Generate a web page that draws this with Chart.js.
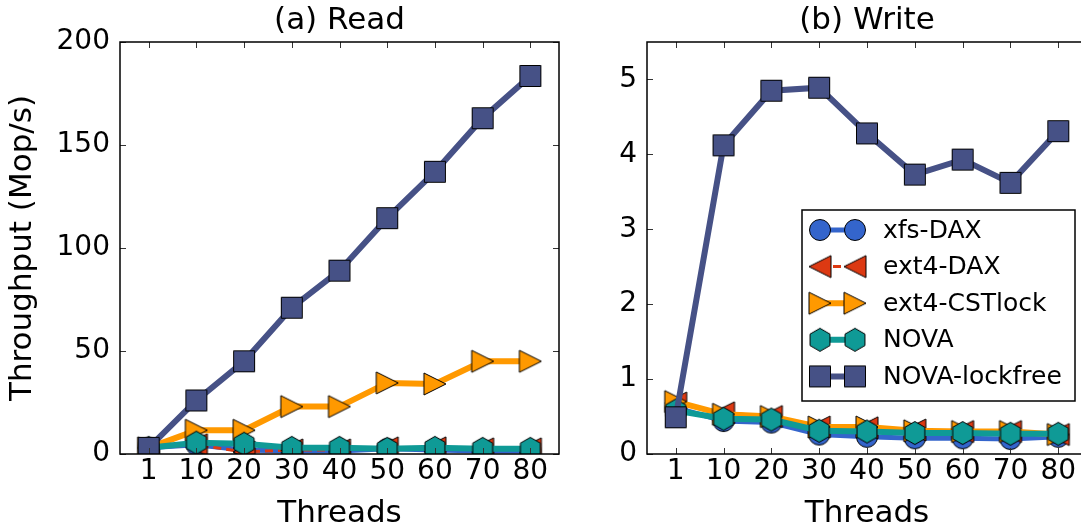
<!DOCTYPE html>
<html>
<head>
<meta charset="utf-8">
<script src="https://cdn.jsdelivr.net/npm/chart.js@4.4.0/dist/chart.umd.min.js"></script>
<style>
    html, body { margin: 0; padding: 0; background: #fff; overflow: hidden; width: 1081px; height: 529px; }
    #readBox { position: absolute; left: 0; top: 0; width: 565px; height: 529px; }
    #writeBox { position: absolute; left: 560px; top: 0; width: 540px; height: 529px; }
</style>
</head>
<body>
<div id="readBox"><canvas id="readChart"></canvas></div>
<div id="writeBox"><canvas id="writeChart"></canvas></div>
<script>
'use strict';

// 
// Data
//

const threads = ['1', '10', '20', '30', '40', '50', '60', '70', '80'];
const seriesNames = ['xfs-DAX', 'ext4-DAX', 'ext4-CSTlock', 'NOVA', 'NOVA-lockfree'];

const readXfsDax = [3, 4.5, 2, 1.5, 1.5, 2.5, 2, 1.5, 1.5];
const readExt4Dax = [3, 4.5, 1, 2, 2, 3, 3, 2.5, 2.5];
const readCstlock = [3, 11.5, 11.5, 23, 23, 34.5, 34, 45, 45];
const readNova = [3, 5.5, 5, 3, 3, 2.5, 3, 2.5, 2.5];
const readLockfree = [3, 26, 45, 71, 89, 114.5, 137, 163, 183.5];

const writeXfsDax = [0.62, 0.44, 0.42, 0.26, 0.23, 0.21, 0.21, 0.2, 0.23];
const writeExt4Dax = [0.68, 0.55, 0.5, 0.36, 0.35, 0.32, 0.3, 0.3, 0.26];
const writeCstlock = [0.7, 0.53, 0.5, 0.36, 0.36, 0.31, 0.3, 0.3, 0.26];
const writeNova = [0.58, 0.47, 0.46, 0.31, 0.3, 0.28, 0.28, 0.27, 0.27];
const writeLockfree = [0.49, 4.12, 4.85, 4.89, 4.28, 3.73, 3.93, 3.62, 4.31];

const readTicks = [0, 50, 100, 150, 200];
const writeTicks = [0, 1, 2, 3, 4, 5];


//
// Styles
//

const FONT = "'DejaVu Sans', sans-serif";
const seriesColors = ['#3465cc', '#dc3912', '#ff9900', '#0f9a96', '#465186'];
const seriesMarkers = ['circle', 'left', 'right', 'hexagon', 'square'];
const seriesWidths = [5, 3, 6, 6, 6];
const seriesDash = [[], [8, 5], [], [], []];


function makeMarker(shape, fill) {
    const c = document.createElement('canvas');
    c.width = 26;
    c.height = 26;
    const ctx = c.getContext('2d');
    const m = 13;
    ctx.beginPath();
    if (shape === 'circle') {
        ctx.arc(m, m, 10.5, 0, Math.PI * 2);
    } else if (shape === 'square') {
        ctx.rect(m - 10.5, m - 10.5, 21, 21);
    } else if (shape === 'right') {
        ctx.moveTo(m + 11, m); ctx.lineTo(m - 11, m - 11); ctx.lineTo(m - 11, m + 11); ctx.closePath();
    } else if (shape === 'left') {
        ctx.moveTo(m - 11, m); ctx.lineTo(m + 11, m - 11); ctx.lineTo(m + 11, m + 11); ctx.closePath();
    } else if (shape === 'hexagon') {
        for (let i = 0; i < 6; i++) {
            const a = -Math.PI / 2 + i * Math.PI / 3;
            const px = m + 11.5 * Math.cos(a), py = m + 11.5 * Math.sin(a);
            if (i) ctx.lineTo(px, py); else ctx.moveTo(px, py);
        }
        ctx.closePath();
    }
    ctx.fillStyle = fill;
    ctx.fill();
    ctx.lineWidth = 1;
    ctx.strokeStyle = '#000';
    ctx.stroke();
    return c;
}

const markerImages = seriesMarkers.map((s, i) => makeMarker(s, seriesColors[i]));


function buildDatasets(seriesValues) {
    return seriesValues.map((values, i) => ({
        label: seriesNames[i],
        data: values.map((y, x) => ({ x: x, y: y })),
        borderColor: seriesColors[i],
        backgroundColor: seriesColors[i],
        borderWidth: seriesWidths[i],
        borderDash: seriesDash[i],
        pointStyle: markerImages[i],
        pointRadius: 11,
        tension: 0,
        order: seriesNames.length - i
    }));
}


// inward ticks on all four sides plus the frame, like matplotlib
const frameTicks = {
    id: 'frameTicks',
    afterDatasetsDraw(chart) {
        const ctx = chart.ctx;
        const a = chart.chartArea;
        const xs = chart.scales.x, ys = chart.scales.y;
        ctx.save();
        ctx.strokeStyle = '#333';
        ctx.lineWidth = 1;
        ctx.beginPath();
        xs.ticks.forEach(t => {
            const px = Math.round(xs.getPixelForValue(t.value)) + 0.5;
            ctx.moveTo(px, a.bottom); ctx.lineTo(px, a.bottom - 6);
            ctx.moveTo(px, a.top); ctx.lineTo(px, a.top + 6);
        });
        ys.ticks.forEach(t => {
            const py = Math.round(ys.getPixelForValue(t.value)) + 0.5;
            ctx.moveTo(a.left, py); ctx.lineTo(a.left + 6, py);
            ctx.moveTo(a.right, py); ctx.lineTo(a.right - 6, py);
        });
        ctx.stroke();
        ctx.strokeStyle = '#000';
        ctx.lineWidth = 1.5;
        ctx.strokeRect(a.left, a.top, a.right - a.left, a.bottom - a.top);
        ctx.restore();
    }
};


const boxLegend = {
    id: 'boxLegend',
    afterDraw(chart) {
        const ctx = chart.ctx;
        const x0 = 242, y0 = 210, w = 273, h = 191;
        ctx.save();
        ctx.fillStyle = '#fff';
        ctx.fillRect(x0, y0, w, h);
        ctx.strokeStyle = '#000';
        ctx.lineWidth = 1.5;
        ctx.strokeRect(x0, y0, w, h);
        seriesNames.forEach((name, i) => {
            const y = 230 + i * 36.6;
            ctx.beginPath();
            ctx.strokeStyle = seriesColors[i];
            ctx.lineWidth = seriesWidths[i];
            ctx.setLineDash(seriesDash[i]);
            ctx.moveTo(260, y);
            ctx.lineTo(295, y);
            ctx.stroke();
            ctx.setLineDash([]);
            const img = markerImages[i];
            ctx.drawImage(img, 260 - img.width / 2, y - img.height / 2);
            ctx.drawImage(img, 295 - img.width / 2, y - img.height / 2);
            ctx.fillStyle = '#000';
            ctx.font = '25px ' + FONT;
            ctx.textBaseline = 'middle';
            ctx.textAlign = 'left';
            ctx.fillText(name, 323, y + 1);
        });
        ctx.restore();
    }
};


function makeChart(canvasId, title, seriesValues, yTicks, yMax, yWidth, yTitle, padRight, plugins) {
    return new Chart(document.getElementById(canvasId).getContext('2d'), {
        type: 'line',
        data: { datasets: buildDatasets(seriesValues) },
        options: {
            animation: false,
            responsive: true,
            maintainAspectRatio: false,
            events: [],
            layout: { autoPadding: false, padding: { top: 0, right: padRight, bottom: 0, left: 0 } },
            plugins: {
                legend: { display: false },
                tooltip: { enabled: false },
                title: {
                    display: true,
                    text: title,
                    fullSize: false,
                    color: '#000',
                    font: { family: FONT, size: 31, weight: 'normal', lineHeight: 1.2 },
                    padding: { top: 2, bottom: 2.8 }
                }
            },
            scales: {
                x: {
                    type: 'linear',
                    min: -0.6,
                    max: 8.6,
                    grid: { display: false, drawTicks: false },
                    border: { display: false },
                    afterBuildTicks: (scale) => { scale.ticks = threads.map((t, i) => ({ value: i })); },
                    afterFit: (scale) => {
                        scale.height = 75;
                        scale.paddingLeft = 0;
                        scale.paddingRight = 0;
                    },
                    ticks: {
                        color: '#000',
                        padding: 1,
                        maxRotation: 0,
                        font: { family: FONT, size: 28 },
                        callback: (v) => threads[v]
                    },
                    title: {
                        display: true,
                        text: 'Threads',
                        color: '#000',
                        padding: { top: 0, bottom: 0 },
                        font: { family: FONT, size: 31, lineHeight: 0.95 }
                    }
                },
                y: {
                    min: 0,
                    max: yMax,
                    grid: { display: false, drawTicks: false },
                    border: { display: false },
                    afterBuildTicks: (scale) => { scale.ticks = yTicks.map(v => ({ value: v })); },
                    afterFit: (scale) => {
                        scale.width = yWidth;
                        scale.paddingTop = 0;
                        scale.paddingBottom = 0;
                    },
                    ticks: {
                        color: '#000',
                        padding: 10,
                        font: { family: FONT, size: 28 }
                    },
                    title: {
                        display: yTitle !== '',
                        text: yTitle,
                        color: '#000',
                        padding: { top: 4, bottom: 0 },
                        font: { family: FONT, size: 31, lineHeight: 1.2 }
                    }
                }
            }
        },
        plugins: plugins
    });
}


makeChart('readChart', '(a) Read',
    [readXfsDax, readExt4Dax, readCstlock, readNova, readLockfree],
    readTicks, 200, 120, 'Throughput (Mop/s)', 6, [frameTicks]);

makeChart('writeChart', '(b) Write',
    [writeXfsDax, writeExt4Dax, writeCstlock, writeNova, writeLockfree],
    writeTicks, 5.5, 87, '', 13, [frameTicks, boxLegend]);
</script>
</body>
</html>
